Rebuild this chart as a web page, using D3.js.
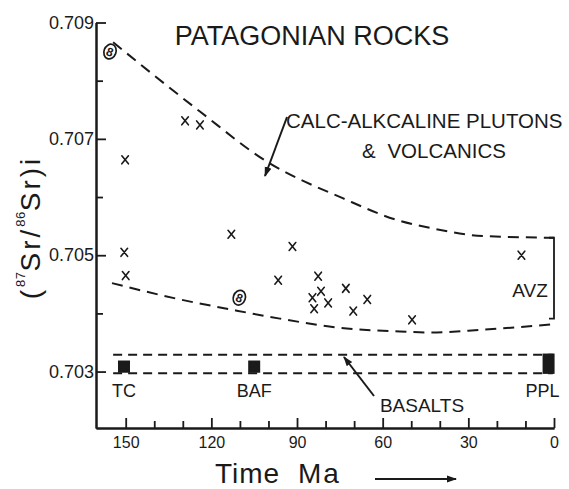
<!DOCTYPE html>
<html><head><meta charset="utf-8">
<script src="https://cdn.jsdelivr.net/npm/d3@7"></script>
<style>
html,body{margin:0;padding:0;background:#fff;}
svg{display:block;}
text{font-family:"Liberation Sans",Arial,sans-serif;fill:#1a1a1a;}
</style>
</head><body>
<svg id="c" width="569" height="489"></svg>
<script>
// ---- data (age in Ma, initial 87Sr/86Sr) ----
const crossAge = [129.2, 124, 150.2, 113, 150.5, 150, 91.6, 96.6, 82.6, 81.6, 84.6, 84, 79.1, 72.9, 70.3, 65.4, 49.7, 11.4];
const crossSr  = [0.70731, 0.70724, 0.70664, 0.70536, 0.70505, 0.70465, 0.70515, 0.70457, 0.70464, 0.70438, 0.70427, 0.70408, 0.70418, 0.70443, 0.70404, 0.70424, 0.70389, 0.70500];
const circledAge = [155.5, 110.2];
const circledSr  = [0.70850, 0.70427];
const upperAge = [154.4, 124, 100.6, 74, 54, 43.5, 25, 0];
const upperSr  = [0.70866, 0.70747, 0.70661, 0.70598, 0.70559, 0.70547, 0.70533, 0.70530];
const lowerAge = [154.8, 131, 113.5, 96, 72.6, 54, 43.5, 25, 0.9];
const lowerSr  = [0.70452, 0.70424, 0.70407, 0.70391, 0.70374, 0.70369, 0.70367, 0.70372, 0.70381];
const basaltBandAge = [154.4, 0.4];
const basaltBandSr  = [0.70297, 0.70329];
const basaltNames = ["TC", "BAF", "PPL"];
const basaltAge  = [150.6, 105, 1.9];
const basaltLow  = [0.70298, 0.70298, 0.70296];
const basaltHigh = [0.70319, 0.70319, 0.70331];
const avzRange = [0.70391, 0.70530];
const xMajorTicks = [150, 120, 90, 60, 30, 0];
const xMinorTicks = [140, 130, 110, 100, 80, 70, 50, 40, 20, 10];
const yMajorTicks = [0.709, 0.707, 0.705, 0.703];
const yMinorTicks = [0.708, 0.706, 0.704];

const ink = "#1a1a1a";
const svg = d3.select("#c");
const x = d3.scaleLinear().domain([160.4, 0]).range([96, 554]);
const y = d3.scaleLinear().domain([0.70203, 0.709]).range([428, 22.5]);

// arrow marker
const defs = svg.append("defs");
defs.append("marker").attr("id","ah").attr("viewBox","0 0 10 10").attr("refX",9).attr("refY",5)
  .attr("markerWidth",10).attr("markerHeight",10).attr("markerUnits","userSpaceOnUse").attr("orient","auto")
  .append("path").attr("d","M0,1.5 L10,5 L0,8.5 Z").attr("fill",ink);

// ---- axes ----
function styleAxis(g){
  g.select(".domain").attr("stroke",ink).attr("stroke-width",2);
  g.selectAll(".tick line").attr("stroke",ink).attr("stroke-width",1.8);
  g.selectAll("text").attr("fill",ink).style("font-family",'"Liberation Sans",Arial,sans-serif');
}
const gxMinor = svg.append("g").attr("transform","translate(0,428)")
  .call(d3.axisBottom(x).tickValues(xMinorTicks).tickSize(-7).tickSizeOuter(0).tickFormat(""));
styleAxis(gxMinor);
const gx = svg.append("g").attr("transform","translate(0,428)")
  .call(d3.axisBottom(x).tickValues(xMajorTicks).tickSize(-10).tickSizeOuter(0).tickPadding(9).tickFormat(d3.format("d")));
styleAxis(gx);
gx.selectAll("text").style("font-size","16px");

const gyMinor = svg.append("g").attr("transform","translate(96,0)")
  .call(d3.axisLeft(y).tickValues(yMinorTicks).tickSize(-7).tickSizeOuter(0).tickFormat(""));
styleAxis(gyMinor);
const gy = svg.append("g").attr("transform","translate(96,0)")
  .call(d3.axisLeft(y).tickValues(yMajorTicks).tickSize(-10).tickSizeOuter(0).tickPadding(2).tickFormat(d3.format(".3f")));
styleAxis(gy);
gy.selectAll("text").style("font-size","18px");

// ---- envelope curves ----
const line = d3.line().x(d => x(d[0])).y(d => y(d[1])).curve(d3.curveMonotoneX);
svg.append("path").attr("d", line(d3.zip(upperAge, upperSr)))
  .attr("fill","none").attr("stroke",ink).attr("stroke-width",2).attr("stroke-dasharray","11,7");
svg.append("path").attr("d", line(d3.zip(lowerAge, lowerSr)))
  .attr("fill","none").attr("stroke",ink).attr("stroke-width",2).attr("stroke-dasharray","11,7");

// basalt band
basaltBandSr.forEach(v => {
  svg.append("line").attr("x1",x(basaltBandAge[0])).attr("x2",x(basaltBandAge[1]))
    .attr("y1",y(v)).attr("y2",y(v)).attr("stroke",ink).attr("stroke-width",2).attr("stroke-dasharray","9,6");
});
// basalt squares
svg.selectAll("rect.bas").data(basaltNames).join("rect").attr("class","bas")
  .attr("x",(d,i)=>x(basaltAge[i])-6).attr("width",12)
  .attr("y",(d,i)=>y(basaltHigh[i])).attr("height",(d,i)=>y(basaltLow[i])-y(basaltHigh[i]))
  .attr("fill",ink);
const labDx = [0, 0, -6];
svg.selectAll("text.bas").data(basaltNames).join("text").attr("class","bas")
  .attr("x",(d,i)=>x(basaltAge[i])+labDx[i]).attr("y",397).attr("text-anchor","middle")
  .style("font-size","18px").text(d=>d);

// AVZ bracket
const bx = x(0);
svg.append("path").attr("d",`M${bx-5},${y(avzRange[1])} H${bx} V${y(avzRange[0])} H${bx-5}`)
  .attr("fill","none").attr("stroke",ink).attr("stroke-width",1.8);
svg.append("text").attr("x",530).attr("y",297).attr("text-anchor","middle").style("font-size","19px").text("AVZ");

// ---- data marks ----
const cross = svg.append("g").attr("stroke",ink).attr("stroke-width",1.6).attr("stroke-linecap","round");
crossAge.forEach((a,i) => {
  const cx = x(a), cy = y(crossSr[i]);
  cross.append("path").attr("d",`M${cx-3.3},${cy-4} L${cx+3.3},${cy+4} M${cx+3.3},${cy-4} L${cx-3.3},${cy+4}`);
});
circledAge.forEach((a,i) => {
  const cx = x(a), cy = y(circledSr[i]);
  const g = svg.append("g").attr("transform",`translate(${cx},${cy}) rotate(20)`);
  g.append("ellipse").attr("rx",6).attr("ry",7.5).attr("fill","none").attr("stroke",ink).attr("stroke-width",1.7);
  g.append("text").attr("y",4.5).attr("text-anchor","middle").style("font-size","12px").style("font-weight","bold").text("8");
});

// ---- texts ----
svg.append("text").attr("x",312).attr("y",45).attr("text-anchor","middle").style("font-size","27px").text("PATAGONIAN ROCKS");
svg.append("text").attr("x",286).attr("y",128).style("font-size","20.5px").text("CALC-ALKCALINE PLUTONS");
svg.append("text").attr("x",434).attr("y",158).attr("text-anchor","middle").style("font-size","20.5px").attr("word-spacing","6").text("& VOLCANICS");
svg.append("line").attr("x1",287).attr("y1",117).attr("x2",265).attr("y2",176)
  .attr("stroke",ink).attr("stroke-width",2).attr("marker-end","url(#ah)");

svg.append("text").attr("x",422).attr("y",412).attr("text-anchor","middle").style("font-size","19px").text("BASALTS");
svg.append("line").attr("x1",374).attr("y1",396).attr("x2",344).attr("y2",357)
  .attr("stroke",ink).attr("stroke-width",2).attr("marker-end","url(#ah)");

// axis titles
svg.append("text").attr("x",215).attr("y",483).style("font-size","28px").attr("letter-spacing","1").text("Time");
svg.append("text").attr("x",298).attr("y",483).style("font-size","28px").attr("letter-spacing","2").text("Ma");
svg.append("line").attr("x1",375).attr("y1",479).attr("x2",456).attr("y2",479)
  .attr("stroke",ink).attr("stroke-width",2).attr("marker-end","url(#ah)");

const yl = svg.append("text").attr("transform","translate(40,227.5) rotate(-90)")
  .attr("text-anchor","middle").style("font-size","28px").attr("letter-spacing","3");
yl.append("tspan").text("(");
yl.append("tspan").attr("dy",-15).style("font-size","13px").attr("letter-spacing","0.5").text("87");
yl.append("tspan").attr("dy",15).text("Sr/");
yl.append("tspan").attr("dy",-15).style("font-size","13px").attr("letter-spacing","0.5").text("86");
yl.append("tspan").attr("dy",15).text("Sr)i");
</script>
</body></html>
